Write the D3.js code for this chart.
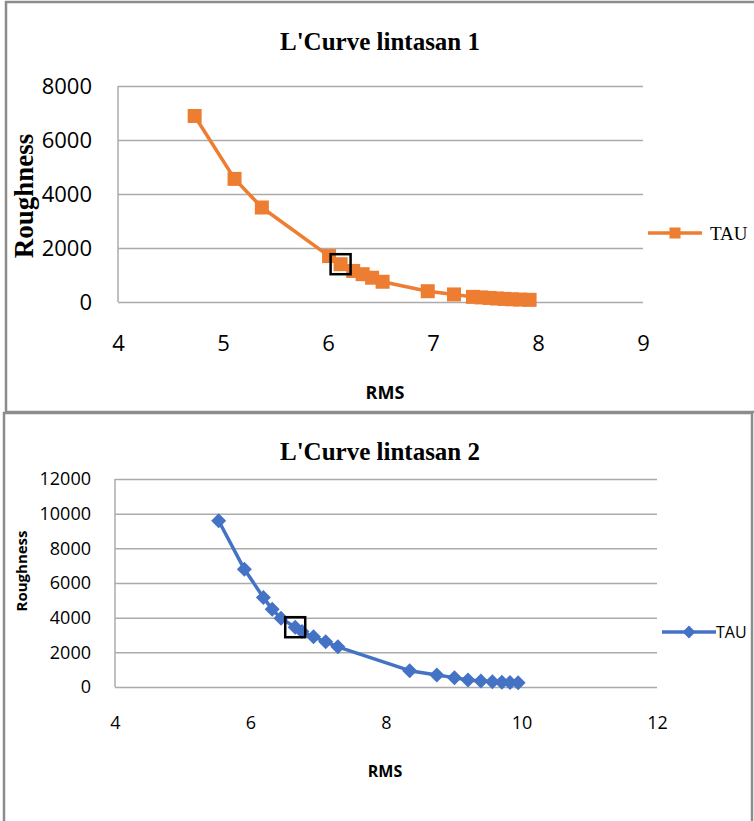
<!DOCTYPE html>
<html>
<head>
<meta charset="utf-8">
<script src="https://cdn.jsdelivr.net/npm/d3@7"></script>
<style>
  body { margin: 0; background: #fff; }
  svg { display: block; }
</style>
</head>
<body>
<svg id="chart" width="754" height="821"></svg>
<script>
// L-curve, track 1
const rms1 = [4.73, 5.11, 5.37, 6.01, 6.12, 6.24, 6.33, 6.42, 6.52, 6.95, 7.20, 7.38, 7.46, 7.54, 7.61, 7.68, 7.75, 7.83, 7.92];
const rough1 = [6890, 4560, 3500, 1700, 1400, 1150, 1030, 900, 750, 400, 280, 190, 170, 150, 130, 115, 100, 90, 80];
const picked1 = 4;
const xTicks1 = [4, 5, 6, 7, 8, 9];
const yTicks1 = [0, 2000, 4000, 6000, 8000];

// L-curve, track 2
const rms2 = [5.53, 5.91, 6.19, 6.32, 6.45, 6.66, 6.76, 6.93, 7.11, 7.29, 8.35, 8.75, 9.01, 9.21, 9.40, 9.57, 9.71, 9.83, 9.95];
const rough2 = [9590, 6790, 5170, 4480, 3960, 3450, 3200, 2900, 2610, 2320, 940, 690, 540, 400, 350, 310, 270, 260, 250];
const picked2 = 5;
const xTicks2 = [4, 6, 8, 10, 12];
const yTicks2 = [0, 2000, 4000, 6000, 8000, 10000, 12000];

const seriesName = "TAU";
const svg = d3.select("#chart");
const SANS = "'Open Sans', 'Noto Sans', sans-serif";
const SERIF = "'Liberation Serif', 'DejaVu Serif', serif";
const GRID = "#ababab";

function drawPanel(cfg) {
  const g = svg.append("g");

  // outer frame
  g.append("rect")
    .attr("x", cfg.frame[0]).attr("y", cfg.frame[1])
    .attr("width", cfg.frame[2]).attr("height", cfg.frame[3])
    .attr("fill", "#fff").attr("stroke", "#8c8c8c").attr("stroke-width", 2.5);

  const x = d3.scaleLinear().domain(cfg.xDomain).range(cfg.xRange);
  const y = d3.scaleLinear().domain(cfg.yDomain).range(cfg.yRange);

  // horizontal gridlines
  g.append("g")
    .attr("transform", `translate(${cfg.xRange[0]},0)`)
    .call(d3.axisLeft(y).tickValues(cfg.yTicks).tickSize(-(cfg.xRange[1] - cfg.xRange[0])).tickFormat(""))
    .call(a => a.select(".domain").remove())
    .call(a => a.selectAll("line").attr("stroke", GRID).attr("stroke-width", 1.5));

  // vertical axis line
  g.append("line")
    .attr("x1", cfg.xRange[0]).attr("x2", cfg.xRange[0])
    .attr("y1", cfg.yRange[0]).attr("y2", cfg.yRange[1])
    .attr("stroke", GRID).attr("stroke-width", 1.5);

  // y tick labels
  g.append("g")
    .attr("transform", `translate(${cfg.yLabelX},0)`)
    .call(d3.axisLeft(y).tickValues(cfg.yTicks).tickSize(0).tickPadding(0).tickFormat(d3.format("d")))
    .call(a => a.select(".domain").remove())
    .call(a => a.selectAll("text")
      .attr("font-family", SANS).attr("font-size", cfg.tickSize).attr("fill", "#000"));

  // x tick labels
  g.append("g")
    .attr("transform", `translate(0,${cfg.xLabelY})`)
    .call(d3.axisBottom(x).tickValues(cfg.xTicks).tickSize(0).tickPadding(0).tickFormat(d3.format("d")))
    .call(a => a.select(".domain").remove())
    .call(a => a.selectAll("text")
      .attr("font-family", SANS).attr("font-size", cfg.tickSize).attr("fill", "#000")
      .attr("dy", "0.35em"));

  // title
  g.append("text")
    .attr("x", cfg.titleX).attr("y", cfg.titleY)
    .attr("text-anchor", "middle")
    .attr("font-family", SERIF).attr("font-weight", "bold").attr("font-size", 25)
    .text(cfg.title);

  // axis titles
  g.append("text")
    .attr("x", cfg.xTitle[0]).attr("y", cfg.xTitle[1])
    .attr("text-anchor", "middle").attr("dy", "0.35em")
    .attr("font-family", SANS).attr("font-weight", "bold").attr("font-size", cfg.xTitleSize)
    .text("RMS");

  g.append("text")
    .attr("transform", `translate(${cfg.yTitle[0]},${cfg.yTitle[1]}) rotate(-90)`)
    .attr("text-anchor", "middle")
    .attr("font-family", cfg.yTitleFont).attr("font-weight", "bold").attr("font-size", cfg.yTitleSize)
    .text("Roughness");

  // series line and markers
  const pts = cfg.xs.map((v, i) => [v, cfg.ys[i]]);
  g.append("path")
    .datum(pts)
    .attr("d", d3.line().x(d => x(d[0])).y(d => y(d[1])))
    .attr("fill", "none").attr("stroke", cfg.color).attr("stroke-width", 3.5)
    .attr("stroke-linejoin", "round");

  g.append("g").selectAll("path")
    .data(pts)
    .join("path")
    .attr("transform", d => `translate(${x(d[0])},${y(d[1])})`)
    .attr("d", cfg.marker)
    .attr("fill", cfg.color);

  // highlighted optimum point
  const p = pts[cfg.picked];
  g.append("rect")
    .attr("x", x(p[0]) - 10).attr("y", y(p[1]) - 10)
    .attr("width", 20).attr("height", 20)
    .attr("fill", "none").attr("stroke", "#000").attr("stroke-width", 2.5);

  // legend
  const lg = g.append("g").attr("transform", `translate(${cfg.legend[0]},${cfg.legend[1]})`);
  lg.append("line").attr("x1", 0).attr("x2", 54).attr("y1", 0).attr("y2", 0)
    .attr("stroke", cfg.color).attr("stroke-width", 3.5);
  lg.append("path").attr("transform", "translate(27,0)").attr("d", cfg.legendMarker).attr("fill", cfg.color);
  lg.append("text").attr("x", cfg.legendTextDx).attr("y", 0).attr("dy", "0.35em")
    .attr("font-family", cfg.legendFont).attr("font-size", cfg.legendSize).attr("fill", "#000")
    .text(seriesName);
}

const square = d3.symbol().type(d3.symbolSquare).size(196)();
const squareSmall = d3.symbol().type(d3.symbolSquare).size(121)();
const diamond = "M0,-7.5L7.5,0L0,7.5L-7.5,0Z";
const diamondSmall = "M0,-6.5L6.5,0L0,6.5L-6.5,0Z";

drawPanel({
  frame: [6, 2, 770, 410],
  xDomain: [4, 9], xRange: [118, 643],
  yDomain: [0, 8000], yRange: [302, 86],
  xTicks: xTicks1, yTicks: yTicks1,
  yLabelX: 92, xLabelY: 343, tickSize: 22,
  title: "L'Curve lintasan 1", titleX: 380, titleY: 50,
  xTitle: [385, 393], xTitleSize: 18,
  yTitle: [33, 196], yTitleFont: SERIF, yTitleSize: 27,
  xs: rms1, ys: rough1, picked: picked1,
  color: "#ed7d31", marker: square,
  legend: [648, 233], legendMarker: squareSmall,
  legendTextDx: 62, legendFont: SERIF, legendSize: 19
});

drawPanel({
  frame: [4, 413, 748, 430],
  xDomain: [4, 12], xRange: [115, 657],
  yDomain: [0, 12000], yRange: [687, 479],
  xTicks: xTicks2, yTicks: yTicks2,
  yLabelX: 91, xLabelY: 723, tickSize: 18,
  title: "L'Curve lintasan 2", titleX: 380, titleY: 460,
  xTitle: [385, 771], xTitleSize: 16,
  yTitle: [27, 571], yTitleFont: SANS, yTitleSize: 15,
  xs: rms2, ys: rough2, picked: picked2,
  color: "#4472c4", marker: diamond,
  legend: [662, 632], legendMarker: diamondSmall,
  legendTextDx: 54, legendFont: SANS, legendSize: 16
});
</script>
</body>
</html>
